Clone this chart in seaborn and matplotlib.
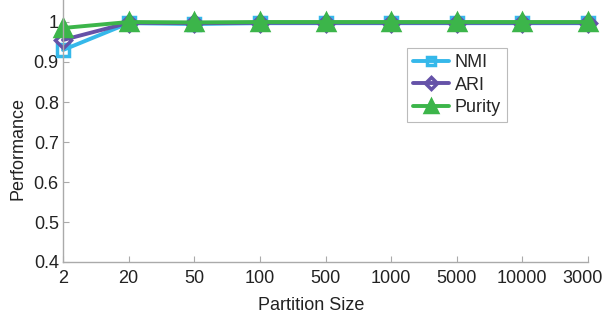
import matplotlib
matplotlib.use("Agg")
import matplotlib.pyplot as plt
import seaborn as sns
import pandas as pd
import numpy as np

partition_sizes = ["2", "20", "50", "100", "500", "1000", "5000", "10000", "30000"]
nmi = [0.930, 0.997, 0.995, 0.997, 0.997, 0.997, 0.997, 0.997, 0.997]
ari = [0.955, 0.998, 0.997, 0.998, 0.998, 0.998, 0.998, 0.998, 0.998]
purity = [0.985, 1.000, 0.999, 1.000, 1.000, 1.000, 1.000, 1.000, 1.000]

series_names = ["NMI", "ARI", "Purity"]
series_values = [nmi, ari, purity]
colors = ["#35b8ea", "#6552a8", "#3cb54a"]
markers = ["s", "D", "^"]
msizes = [8, 8, 11]

sns.set_style("white")
plt.rcParams["font.family"] = ["Liberation Sans", "DejaVu Sans"]
FS = 13

fig = plt.figure(figsize=(6.02, 3.21), dpi=100)
ax = fig.add_axes([63 / 602, 59 / 321, 525 / 602, 262 / 321])

pos = np.arange(len(partition_sizes))
for name, vals, c, m, ms in zip(series_names, series_values, colors, markers, msizes):
    df = pd.DataFrame({"pos": pos, "value": vals})
    sns.lineplot(data=df, x="pos", y="value", ax=ax, color=c, linewidth=2.8,
                 marker=m, markersize=ms, markeredgewidth=2.5,
                 markerfacecolor=c if m == "^" else "none",
                 markeredgecolor=c, label=name, clip_on=False)

ax.set_xlim(0, len(partition_sizes) - 1)
ax.set_ylim(0.4, 1.055)
ax.set_xticks(pos)
ax.set_xticklabels(partition_sizes)
ax.set_yticks([0.4, 0.5, 0.6, 0.7, 0.8, 0.9, 1.0])
ax.set_yticklabels(["0.4", "0.5", "0.6", "0.7", "0.8", "0.9", "1"])
ax.tick_params(axis="both", direction="in", length=4, width=0.8, color="#aaaaaa",
               labelsize=FS, labelcolor="#222222")
ax.tick_params(axis="x", pad=6)
ax.tick_params(axis="y", pad=3)
ax.tick_params(axis="both", bottom=True, left=True)
for side in ["top", "right"]:
    ax.spines[side].set_visible(False)
for side in ["left", "bottom"]:
    ax.spines[side].set_color("#aaaaaa")
    ax.spines[side].set_linewidth(1.0)

ax.set_xlabel("Partition Size", fontsize=FS, color="#222222")
ax.set_ylabel("Performance", fontsize=FS, color="#222222")
ax.xaxis.set_label_coords((311 - 63) / 525, -(305 - 262) / 262)
ax.yaxis.set_label_coords(-(63 - 18) / 525, (262 - 148) / 262)
ax.xaxis.label.set_verticalalignment("center")
ax.yaxis.label.set_verticalalignment("center")

leg = ax.legend(loc="upper left", bbox_to_anchor=((407 - 63) / 525, 1 - 48 / 262),
                fontsize=FS, frameon=True, fancybox=False, handlelength=2.0,
                handletextpad=0.3, borderpad=0.35, labelspacing=0.3,
                borderaxespad=0, markerscale=0.8)
leg.get_frame().set_edgecolor("#aaaaaa")
leg.get_frame().set_linewidth(0.8)

fig.savefig("out.png", dpi=100)
